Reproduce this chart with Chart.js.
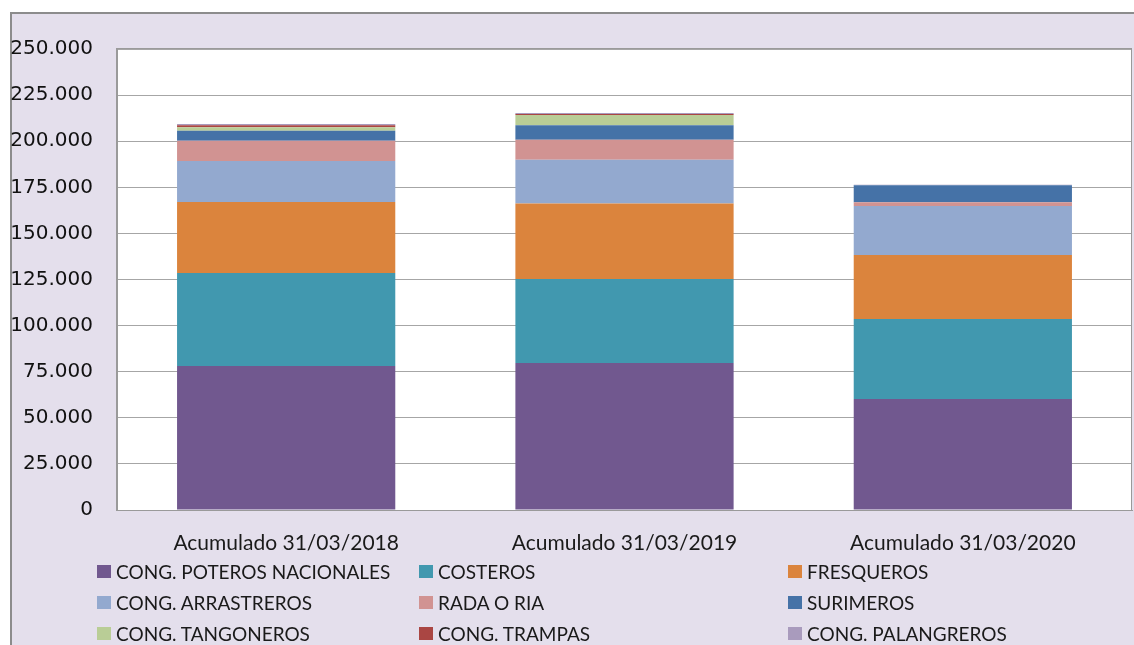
<!DOCTYPE html>
<html>
<head>
<meta charset="utf-8">
<script src="https://cdn.jsdelivr.net/npm/chart.js@4.4.1/dist/chart.umd.min.js"></script>
<style>
  html, body { margin: 0; padding: 0; }
  body { width: 1134px; height: 645px; background: #ffffff; position: relative; overflow: hidden; }
  #frame { position: absolute; left: 10px; top: 12px; width: 1130px; height: 640px;
           background: #E4DFEC; border-left: 2px solid #8c8c8c; border-top: 2px solid #8c8c8c; }
  #chart-1 { position: absolute; left: 0; top: 0; }
  #legend { position: absolute; left: 97px; top: 556px; display: grid;
            grid-template-columns: 322px 369px 300px; grid-auto-rows: 31px;
            font-family: Lato, sans-serif; font-size: 19px; color: #1a1a1a; }
  #legend .item { display: flex; align-items: center; white-space: nowrap; }
  #legend .box { width: 14px; height: 13px; margin-right: 5px; }
</style>
</head>
<body>
<div id="frame"></div>
<canvas id="chart-1" width="1134" height="560"></canvas>
<div id="legend"></div>
<script>
var categories = ['Acumulado 31/03/2018', 'Acumulado 31/03/2019', 'Acumulado 31/03/2020'];

var seriesNames = [
    'CONG. POTEROS NACIONALES', 'COSTEROS', 'FRESQUEROS',
    'CONG. ARRASTREROS', 'RADA O RIA', 'SURIMEROS',
    'CONG. TANGONEROS', 'CONG. TRAMPAS', 'CONG. PALANGREROS'
];
var seriesColors = [
    '#71588F', '#4198AF', '#DB843D',
    '#93A9CF', '#D19392', '#4572A7',
    '#B9CD96', '#AA4643', '#A99BBD'
];

var poteros     = [78100, 79700, 60200];
var costeros    = [50400, 45600, 43400];
var fresqueros  = [38500, 40900, 34700];
var arrastreros = [22300, 23800, 26600];
var rada        = [11000, 10800, 2000];
var surimeros   = [5400, 7800, 9200];
var tangoneros  = [1800, 5600, 0];
var trampas     = [1100, 600, 0];
var palangreros = [700, 500, 300];

var yTicks = [0, 25000, 50000, 75000, 100000, 125000, 150000, 175000, 200000, 225000, 250000];

var seriesValues = [poteros, costeros, fresqueros, arrastreros, rada, surimeros, tangoneros, trampas, palangreros];

function fmt(v) {
    return String(v).replace(/\B(?=(\d{3})+(?!\d))/g, '.');
}

var datasets = seriesNames.map(function(name, i) {
    return {
        label: name,
        data: seriesValues[i],
        backgroundColor: seriesColors[i],
        borderWidth: 0,
        categoryPercentage: 1,
        barPercentage: 0.645
    };
});

// white plot area + border
var plotBg = {
    id: 'plotBg',
    beforeDraw: function(chart) {
        var a = chart.chartArea, c = chart.ctx;
        c.save();
        c.fillStyle = '#ffffff';
        c.fillRect(a.left, a.top, a.right - a.left, a.bottom - a.top);
        c.restore();
    },
    afterDraw: function(chart) {
        var a = chart.chartArea, c = chart.ctx;
        c.save();
        c.strokeStyle = '#9a9a9a';
        c.lineWidth = 1;
        c.strokeRect(a.left - 0.5, a.top - 0.5, a.right - a.left, a.bottom - a.top + 1);
        c.restore();
    }
};

var chartConfig = {
    type: 'bar',
    data: { labels: categories, datasets: datasets },
    plugins: [plotBg],
    options: {
        responsive: false,
        animation: false,
        layout: { padding: { left: 0, right: 2, top: 49, bottom: 0 } },
        plugins: {
            legend: { display: false },
            tooltip: { enabled: false }
        },
        scales: {
            x: {
                stacked: true,
                grid: { display: false },
                border: { display: true, color: '#9a9a9a' },
                ticks: {
                    color: '#1a1a1a',
                    font: { family: 'Lato', size: 21 },
                    padding: 13
                },
                afterFit: function(scale) { scale.height = 50; }
            },
            y: {
                stacked: true,
                min: 0,
                max: 250000,
                afterBuildTicks: function(scale) {
                    scale.ticks = yTicks.map(function(v) { return { value: v }; });
                },
                grid: { color: '#a6a6a6', drawTicks: false },
                border: { display: true, color: '#9a9a9a' },
                ticks: {
                    color: '#111111',
                    font: { family: 'DejaVu Sans', size: 20 },
                    padding: 24,
                    callback: function(v) { return fmt(v); }
                },
                afterFit: function(scale) { scale.width = 117; }
            }
        }
    }
};

var chart1 = new Chart(document.getElementById('chart-1'), chartConfig);

// legend in three columns, like the original
var legendEl = document.getElementById('legend');
seriesNames.forEach(function(name, i) {
    var item = document.createElement('div');
    item.className = 'item';
    var box = document.createElement('span');
    box.className = 'box';
    box.style.background = seriesColors[i];
    var txt = document.createElement('span');
    txt.textContent = name;
    item.appendChild(box);
    item.appendChild(txt);
    legendEl.appendChild(item);
});
</script>
</body>
</html>
